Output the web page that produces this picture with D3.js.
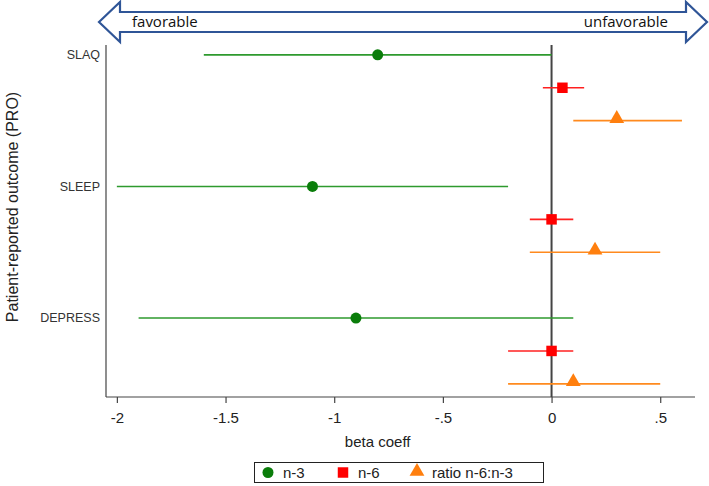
<!DOCTYPE html>
<html>
<head>
<meta charset="utf-8">
<script src="https://cdn.jsdelivr.net/npm/d3@7"></script>
<style>
body { margin:0; background:#fff; }
svg { display:block; font-family:"Liberation Sans", Arial, sans-serif; }
</style>
</head>
<body>
<svg></svg>
<script>
//data
var outcomes = ["SLAQ", "SLEEP", "DEPRESS"]
var series = ["n-3", "n-6", "ratio n-6:n-3"]
var colors = ["#0a7d0a", "#ff0000", "#ff7f0e"]
var lineColors = ["#2e9a2e", "#ff2020", "#ff8a1e"]
var estimates = [[-0.8, 0.05, 0.3], [-1.1, 0.0, 0.2], [-0.9, 0.0, 0.1]]
var lower = [[-1.6, -0.04, 0.1], [-2.0, -0.1, -0.1], [-1.9, -0.2, -0.2]]
var upper = [[0.0, 0.15, 0.6], [-0.2, 0.1, 0.5], [0.1, 0.1, 0.5]]
var xTicks = [-2, -1.5, -1, -0.5, 0, 0.5]
var xTickLabels = ["-2", "-1.5", "-1", "-.5", "0", ".5"]

var screen = {width:709, height:486}
var margins = {top:45, left:106, right:14, bottom:89}

var svg = d3.select("svg")
    .attr("width", screen.width)
    .attr("height", screen.height)

var width = screen.width - margins.left - margins.right
var height = screen.height - margins.top - margins.bottom

var xScale = d3.scaleLinear()
    .domain([-2.05, 0.66])
    .range([margins.left, margins.left + width])

//11 row slots, empty slot between outcome groups
var yScale = d3.scaleLinear()
    .domain([-0.3, 10.4])
    .range([margins.top, margins.top + height])

var rows = []
outcomes.forEach(function(o, i) {
    series.forEach(function(s, j) {
        rows.push({outcome:o, s:j, slot:i*4 + j, est:estimates[i][j], lo:lower[i][j], hi:upper[i][j]})
    })
})

//top arrow
var ay = 22, ax0 = 99, ax1 = 707, hb0 = 120, hb1 = 686
var arrowPath = "M" + ax0 + "," + ay +
    " L" + hb0 + ",2 L" + hb0 + ",12 L" + hb1 + ",12 L" + hb1 + ",2" +
    " L" + ax1 + "," + ay +
    " L" + hb1 + ",42 L" + hb1 + ",32 L" + hb0 + ",32 L" + hb0 + ",42 Z"
svg.append("path")
    .attr("d", arrowPath)
    .attr("fill", "#fff")
    .attr("stroke", "#2f5597")
    .attr("stroke-width", 2.2)
    .attr("stroke-linejoin", "miter")
svg.append("text").attr("x", 132).attr("y", 27)
    .style("font-family", "'Open Sans', 'Noto Sans', sans-serif").style("font-size", "15px")
    .attr("fill", "#111").text("favorable")
svg.append("text").attr("x", 668).attr("y", 27).attr("text-anchor", "end")
    .style("font-family", "'Open Sans', 'Noto Sans', sans-serif").style("font-size", "15px")
    .attr("fill", "#111").text("unfavorable")

//axes
var xAxis = d3.axisBottom(xScale)
    .tickValues(xTicks)
    .tickSize(6)
    .tickFormat(function(d, i) { return xTickLabels[i] })

var gx = svg.append("g")
    .attr("transform", "translate(0," + (margins.top + height) + ")")
    .call(xAxis)
gx.select(".domain").attr("d", "M" + margins.left + ",0H" + (margins.left + width)).attr("stroke", "#444").attr("stroke-width", 1.2)
gx.selectAll(".tick line").attr("stroke", "#444").attr("stroke-width", 1.2)
gx.selectAll(".tick text").attr("dy", "1.15em").style("font-size", "15px").attr("fill", "#222")

svg.append("line")
    .attr("x1", margins.left).attr("x2", margins.left)
    .attr("y1", margins.top).attr("y2", margins.top + height)
    .attr("stroke", "#444").attr("stroke-width", 1.2)

svg.selectAll(".ylab")
    .data(outcomes)
    .enter().append("text")
    .attr("x", margins.left - 6)
    .attr("y", function(d, i) { return yScale(i*4) })
    .attr("dy", "0.35em")
    .attr("text-anchor", "end")
    .style("font-size", "12.5px")
    .attr("fill", "#333")
    .text(function(d) { return d })

svg.append("text")
    .attr("transform", "translate(18," + (margins.top + height/2 - 14) + ") rotate(-90)")
    .attr("text-anchor", "middle")
    .style("font-size", "16px")
    .attr("fill", "#222")
    .text("Patient-reported outcome (PRO)")

svg.append("text")
    .attr("x", xScale(-0.8)).attr("y", 447)
    .attr("text-anchor", "middle")
    .style("font-size", "15px").attr("fill", "#222")
    .text("beta coeff")

//zero line
svg.append("line")
    .attr("x1", xScale(0)).attr("x2", xScale(0))
    .attr("y1", margins.top).attr("y2", margins.top + height)
    .attr("stroke", "#444").attr("stroke-width", 2)

//CI lines
svg.selectAll(".ci")
    .data(rows)
    .enter().append("line")
    .attr("x1", function(d) { return xScale(d.lo) })
    .attr("x2", function(d) { return xScale(d.hi) })
    .attr("y1", function(d) { return yScale(d.slot) })
    .attr("y2", function(d) { return yScale(d.slot) })
    .attr("stroke", function(d) { return lineColors[d.s] })
    .attr("stroke-width", 1.6)

//markers
var symbols = [d3.symbolCircle, d3.symbolSquare, d3.symbolTriangle]
var sizes = [95, 110, 95]
var marker = function(sel, s) {
    sel.attr("d", d3.symbol().type(symbols[s]).size(sizes[s])())
        .attr("fill", colors[s])
}
svg.selectAll(".pt")
    .data(rows)
    .enter().append("path")
    .attr("transform", function(d) { return "translate(" + xScale(d.est) + "," + (yScale(d.slot) + (d.s == 2 ? -2 : 0)) + ")" })
    .each(function(d) { marker(d3.select(this), d.s) })

//legend
var leg = svg.append("g")
leg.append("rect")
    .attr("x", 254.5).attr("y", 462.5).attr("width", 289).attr("height", 20)
    .attr("fill", "#fff").attr("stroke", "#222").attr("stroke-width", 1)
var legX = [268, 343, 417]
series.forEach(function(s, j) {
    leg.append("path")
        .attr("transform", "translate(" + legX[j] + "," + (472.5 + (j == 2 ? -1 : 0)) + ")")
        .call(marker, j)
    leg.append("text")
        .attr("x", legX[j] + 15).attr("y", 472.5).attr("dy", "0.36em")
        .style("font-size", "15px").attr("fill", "#222")
        .text(s)
})
</script>
</body>
</html>
